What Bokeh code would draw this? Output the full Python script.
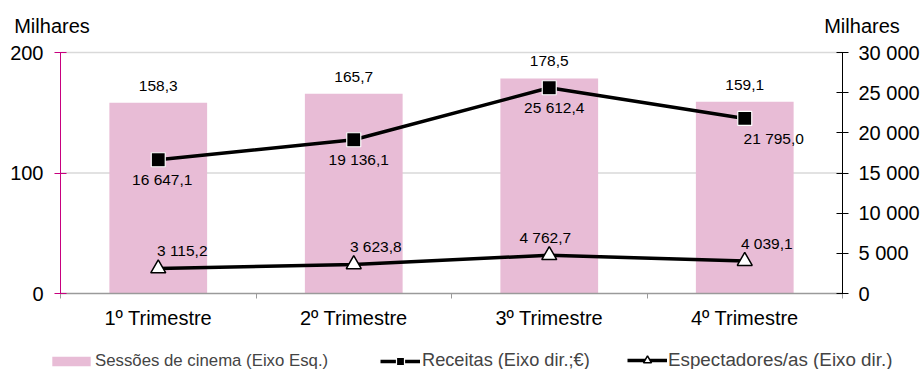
from bokeh.plotting import figure
from bokeh.models import (Range1d, LinearAxis, FixedTicker, ColumnDataSource,
                          Legend, LegendItem, Label)
from bokeh.core.properties import value
from bokeh.embed import file_html
from bokeh.resources import INLINE

# ---- data ----
categories = ["1º Trimestre", "2º Trimestre", "3º Trimestre", "4º Trimestre"]
sessoes = [158.3, 165.7, 178.5, 159.1]            # left axis (milhares)
receitas = [16647.1, 19136.1, 25612.4, 21795.0]   # right axis (milhares €)
espectadores = [3115.2, 3623.8, 4762.7, 4039.1]   # right axis (milhares)
left_ticks = [0, 100, 200]
right_ticks = [0, 5000, 10000, 15000, 20000, 25000, 30000]
unit_label = "Milhares"
legend_labels = ["Sessões de cinema (Eixo Esq.)", "Receitas (Eixo dir.;€)",
                 "Espectadores/as (Eixo dir.)"]

# label offsets (style only)
rec_dx = [4, 5, 5, 29]
esp_dx = [24, 22, -4, 22]

FONT = "Liberation Sans"
PINK = "#E8BCD6"
MAGENTA = "#C8007F"
GRID = "#d9d9d9"
AXIS_GREY = "#9a9a9a"

# ---- layout (pixels) ----
W, H = 921, 369
PX_L, PX_R, PX_T, PX_B = 60, 842, 52, 293      # plot area on the canvas
LMAX, RMAX = left_ticks[-1], right_ticks[-1]
n = len(categories)

xs_per_px = n / (PX_R - PX_L)
ys_per_px = LMAX / (PX_B - PX_T)
x_start, x_end = -PX_L * xs_per_px, n + (W - PX_R) * xs_per_px
y_start, y_end = -(H - PX_B) * ys_per_px, LMAX + PX_T * ys_per_px
k = RMAX / LMAX


def px_x(px):
    return x_start + px * xs_per_px


def px_y(py):  # py measured from top
    return y_end - py * ys_per_px


def fmt(v, dec=1):
    s = f"{v:,.{dec}f}"
    return s.replace(",", " ").replace(".", ",")


xs = [i + 0.5 for i in range(n)]

p = figure(width=W, height=H, output_backend="svg", toolbar_location=None,
           x_range=Range1d(x_start, x_end), y_range=Range1d(y_start, y_end),
           min_border=0, min_border_left=0, min_border_right=0,
           min_border_top=0, min_border_bottom=0)
p.outline_line_color = None
p.extra_y_ranges = {"right": Range1d(y_start * k, y_end * k)}
p.xgrid.visible = False
p.ygrid.visible = False

# horizontal grid lines at the left-axis ticks
grid_ticks = [t for t in left_ticks if t > 0]
p.segment(x0=[0] * len(grid_ticks), x1=[n] * len(grid_ticks), y0=grid_ticks, y1=grid_ticks,
          line_color=GRID, line_width=1.5)

# left axis
ya = p.yaxis[0]
ya.fixed_location = 0
ya.bounds = (0, LMAX)
ya.ticker = FixedTicker(ticks=left_ticks, minor_ticks=[])
ya.axis_line_color = MAGENTA
ya.major_tick_line_color = MAGENTA
ya.major_tick_in = 6
ya.major_tick_out = 6
ya.minor_tick_line_color = None
ya.major_label_text_font = FONT
ya.major_label_text_font_size = "20px"
ya.major_label_text_color = "black"
ya.major_label_standoff = 11

# right axis
ra = LinearAxis(y_range_name="right", ticker=FixedTicker(ticks=right_ticks, minor_ticks=[]),
                fixed_location=n, bounds=(0, RMAX))
ra.major_label_overrides = {t: fmt(t, 0) for t in right_ticks}
ra.axis_line_color = "black"
ra.major_tick_line_color = "black"
ra.major_tick_in = 6
ra.major_tick_out = 6
ra.minor_tick_line_color = None
ra.major_label_text_font = FONT
ra.major_label_text_font_size = "20px"
ra.major_label_text_color = "black"
ra.major_label_standoff = 10
p.add_layout(ra, "right")

# bottom axis
xa = p.xaxis[0]
xa.fixed_location = 0
xa.bounds = (0, n)
xa.ticker = FixedTicker(ticks=xs, minor_ticks=list(range(n + 1)))
xa.major_label_overrides = {x: c for x, c in zip(xs, categories)}
xa.axis_line_color = AXIS_GREY
xa.axis_line_width = 1.5
xa.major_tick_line_color = None
xa.major_tick_in = 0
xa.major_tick_out = 0
xa.minor_tick_line_color = AXIS_GREY
xa.minor_tick_in = 0
xa.minor_tick_out = 5
xa.major_label_text_font = FONT
xa.major_label_text_font_size = "20px"
xa.major_label_text_color = "black"
xa.major_label_standoff = 8

src = ColumnDataSource(dict(
    x=xs, cat=categories, ses=sessoes, rec=receitas, esp=espectadores,
    ses_l=[fmt(v) for v in sessoes], rec_l=[fmt(v) for v in receitas],
    esp_l=[fmt(v) for v in espectadores], rec_dx=rec_dx, esp_dx=esp_dx,
))

bars = p.vbar(x="x", top="ses", width=0.5, source=src, fill_color=PINK, line_color=None)
lr = p.line(x="x", y="rec", source=src, y_range_name="right", line_color="black", line_width=3.5)
sr = p.scatter(x="x", y="rec", source=src, y_range_name="right", marker="square", size=14,
               fill_color="black", line_color="white", line_width=1.2)
le = p.line(x="x", y="esp", source=src, y_range_name="right", line_color="black", line_width=3.5)
tr = p.scatter(x="x", y="esp", source=src, y_range_name="right", marker="triangle", size=15,
               fill_color="white", line_color="black", line_width=1.5)

lab = dict(text_baseline="middle", text_font=value(FONT), text_font_size="15.5px", text_color="black")
p.text(x="x", y="ses", text="ses_l", source=src, y_offset=-17, text_align="center", **lab)
p.text(x="x", y="rec", text="rec_l", source=src, y_range_name="right", x_offset="rec_dx",
       y_offset=20, text_align="center", **lab)
p.text(x="x", y="esp", text="esp_l", source=src, y_range_name="right", x_offset="esp_dx",
       y_offset=-18, text_align="center", **lab)

# unit labels above both axes
for cx in (51.5, 861.5):
    p.add_layout(Label(x=px_x(cx), y=px_y(25), text=unit_label, text_align="center",
                       text_baseline="middle", text_font=FONT, text_font_size="20px",
                       text_color="black"))

# legend: one small legend per entry (different glyph boxes)
legend_specs = [
    (legend_labels[0], [bars], 47, 48, 12, 0, "16.8px"),
    (legend_labels[1], [lr, sr], 380, 40, 20, 2, "18.2px"),
    (legend_labels[2], [le, tr], 627, 40, 20, 1, "18.8px"),
]
for text, rends, lx, gw, gh, so, fs in legend_specs:
    lg = Legend(items=[LegendItem(label=text, renderers=rends)], orientation="horizontal",
                location=(lx, -2))
    lg.label_text_font = FONT
    lg.label_text_font_size = fs
    lg.glyph_width = gw
    lg.glyph_height = gh
    lg.label_height = 20
    lg.label_standoff = so
    lg.padding = 0
    lg.margin = 0
    lg.border_line_color = None
    lg.background_fill_alpha = 0
    p.add_layout(lg, "center")

open("out.html", "w").write(file_html(p, INLINE))
